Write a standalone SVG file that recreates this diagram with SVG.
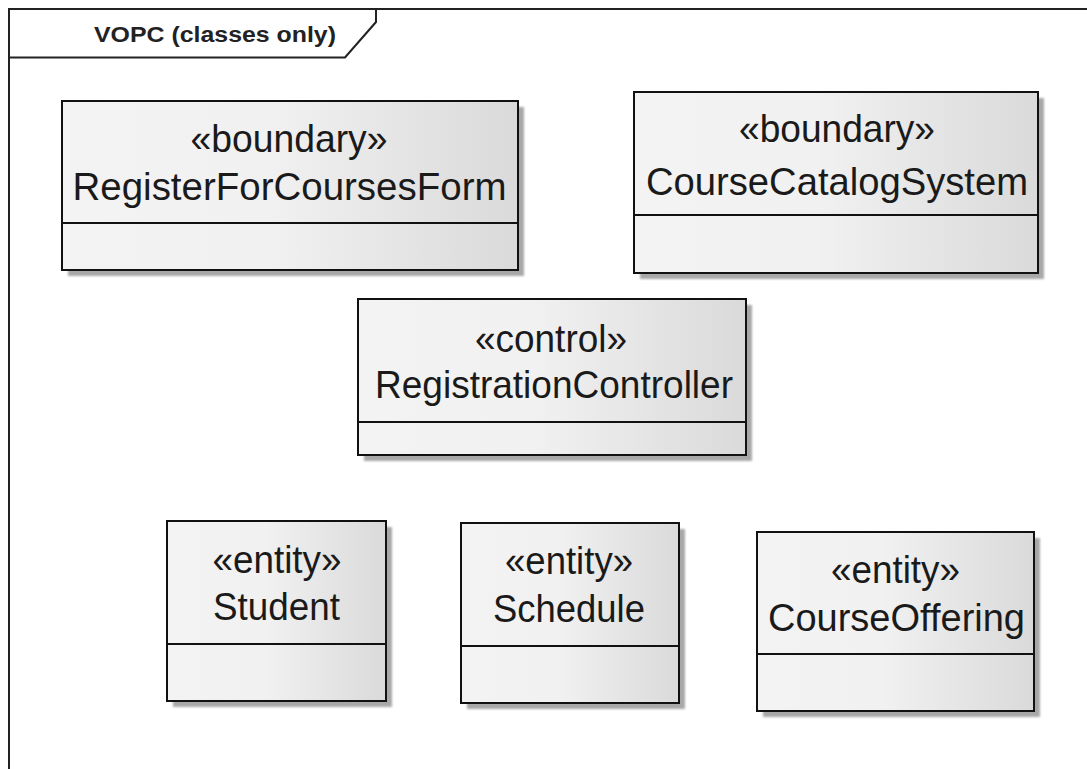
<svg xmlns="http://www.w3.org/2000/svg" width="1087" height="769" viewBox="0 0 1087 769">
  <defs>
    <linearGradient id="fillGrad" x1="0" y1="0" x2="1" y2="0">
      <stop offset="0" stop-color="#f3f3f3"/>
      <stop offset="0.45" stop-color="#f1f1f1"/>
      <stop offset="1" stop-color="#dadada"/>
    </linearGradient>
    <filter id="soft" x="-5%" y="-5%" width="110%" height="110%">
      <feGaussianBlur stdDeviation="0.8"/>
    </filter>
  </defs>
  <style>
    .shadow { fill: #a8a8a8; filter: url(#soft); }
    .box { fill: url(#fillGrad); stroke: #111; stroke-width: 2; }
    .div { stroke: #111; stroke-width: 2; }
    .txt { font-family: "Liberation Sans", Arial, sans-serif; font-size: 39px; fill: #1a1a1a; text-anchor: middle; }
    .title { font-family: "Liberation Sans", Arial, sans-serif; font-size: 22px; font-weight: bold; fill: #222; }
    .frame { fill: none; stroke: #222; stroke-width: 2; }
  </style>
  <rect x="0" y="0" width="1087" height="769" fill="#ffffff"/>

  <g id="frame">
    <path class="frame" d="M9,770 L9,9 L1088,9"/>
    <path class="frame" d="M9,57.5 L345,57.5 L376,22 L376,9"/>
    <text class="title" x="94" y="41.5" textLength="242" lengthAdjust="spacingAndGlyphs">VOPC (classes only)</text>
  </g>

  <g id="RegisterForCoursesForm">
    <rect class="shadow" x="68" y="107" width="456" height="169"/>
    <rect class="box" x="62" y="101" width="456" height="169"/>
    <line class="div" x1="62" y1="223" x2="518" y2="223"/>
    <text class="txt" x="289" y="152" textLength="197" lengthAdjust="spacingAndGlyphs">«boundary»</text>
    <text class="txt" x="289.5" y="200" textLength="434" lengthAdjust="spacingAndGlyphs">RegisterForCoursesForm</text>
  </g>

  <g id="CourseCatalogSystem">
    <rect class="shadow" x="640" y="98" width="404" height="181"/>
    <rect class="box" x="634" y="92" width="404" height="181"/>
    <line class="div" x1="634" y1="215" x2="1038" y2="215"/>
    <text class="txt" x="837" y="142" textLength="196" lengthAdjust="spacingAndGlyphs">«boundary»</text>
    <text class="txt" x="837" y="195" textLength="382" lengthAdjust="spacingAndGlyphs">CourseCatalogSystem</text>
  </g>

  <g id="RegistrationController">
    <rect class="shadow" x="364" y="305" width="388" height="156"/>
    <rect class="box" x="358" y="299" width="388" height="156"/>
    <line class="div" x1="358" y1="422" x2="746" y2="422"/>
    <text class="txt" x="551" y="352" textLength="152" lengthAdjust="spacingAndGlyphs">«control»</text>
    <text class="txt" x="554" y="398" textLength="358" lengthAdjust="spacingAndGlyphs">RegistrationController</text>
  </g>

  <g id="Student">
    <rect class="shadow" x="173" y="527" width="219" height="180"/>
    <rect class="box" x="167" y="521" width="219" height="180"/>
    <line class="div" x1="167" y1="644" x2="386" y2="644"/>
    <text class="txt" x="277" y="573" textLength="129" lengthAdjust="spacingAndGlyphs">«entity»</text>
    <text class="txt" x="276.5" y="620" textLength="127" lengthAdjust="spacingAndGlyphs">Student</text>
  </g>

  <g id="Schedule">
    <rect class="shadow" x="467" y="529" width="218" height="180"/>
    <rect class="box" x="461" y="523" width="218" height="180"/>
    <line class="div" x1="461" y1="646" x2="679" y2="646"/>
    <text class="txt" x="569" y="573.5" textLength="128" lengthAdjust="spacingAndGlyphs">«entity»</text>
    <text class="txt" x="569" y="621.5" textLength="152" lengthAdjust="spacingAndGlyphs">Schedule</text>
  </g>

  <g id="CourseOffering">
    <rect class="shadow" x="763" y="538" width="277" height="179"/>
    <rect class="box" x="757" y="532" width="277" height="179"/>
    <line class="div" x1="757" y1="654" x2="1034" y2="654"/>
    <text class="txt" x="895.5" y="583" textLength="129" lengthAdjust="spacingAndGlyphs">«entity»</text>
    <text class="txt" x="896.5" y="631" textLength="257" lengthAdjust="spacingAndGlyphs">CourseOffering</text>
  </g>

  <g id="connectors"></g>
</svg>
